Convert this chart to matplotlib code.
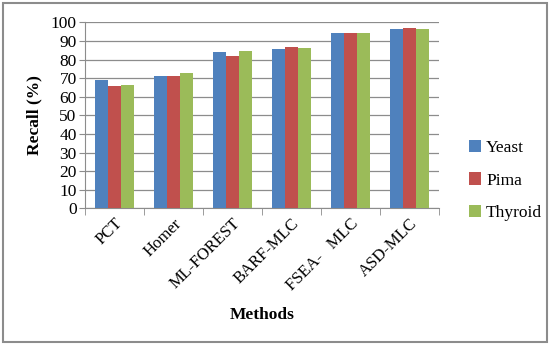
import numpy as np
import matplotlib
matplotlib.use("Agg")
import matplotlib.pyplot as plt
from matplotlib.patches import Rectangle
from matplotlib.font_manager import FontProperties

methods = ["PCT", "Homer", "ML-FOREST", "BARF-MLC", "FSEA-   MLC", "ASD-MLC"]
yeast = [69.0, 71.1, 83.9, 85.6, 94.2, 96.6]
pima = [65.6, 71.3, 81.9, 86.7, 94.2, 96.9]
thyroid = [66.5, 72.6, 84.4, 86.0, 94.1, 96.6]

series = [("Yeast", yeast, "#4F81BD"),
          ("Pima", pima, "#C0504D"),
          ("Thyroid", thyroid, "#9BBB59")]

plt.rcParams['font.family'] = ['Liberation Serif', 'DejaVu Serif']
fs = 12.5

fig = plt.figure(figsize=(5.5, 3.45), dpi=100)
ax = fig.add_axes([0.1545, 0.396, 0.6435, 0.539])

x = np.arange(len(methods))
w = 0.22
for i, (name, vals, col) in enumerate(series):
    ax.bar(x + (i - 1) * w, vals, w, color=col, label=name, zorder=3)

ax.set_xlim(-0.5, len(methods) - 0.5)
ax.set_ylim(0, 100)
ax.set_yticks(range(0, 101, 10))
ax.yaxis.grid(True, color="#8c8c8c", linewidth=0.9, zorder=0)
ax.set_axisbelow(True)

ax.set_xticks(x)
ax.set_xticklabels(methods, rotation=45, ha="right", rotation_mode="anchor", fontsize=12)
ax.tick_params(axis="x", length=0, pad=5)
ax.set_xticks(np.arange(-0.5, len(methods)), minor=True)
ax.tick_params(axis="x", which="minor", length=5, color="#8c8c8c", direction="out")
ax.tick_params(axis="y", length=4, color="#8c8c8c", labelsize=fs, pad=2)

for s in ["top", "right"]:
    ax.spines[s].set_visible(False)
for s in ["left", "bottom"]:
    ax.spines[s].set_color("#8c8c8c")

ax.set_ylabel("Recall (%)", fontsize=fs, fontweight="bold", labelpad=6)
ax.set_xlabel("Methods", fontsize=fs, fontweight="bold")
ax.xaxis.label.set_va("center")
ax.xaxis.set_label_coords(0.5, -0.575)

ax.legend(loc="center left", bbox_to_anchor=(1.04, 0.15), frameon=False,
          prop=FontProperties(family=['Liberation Serif', 'DejaVu Serif'], size=fs),
          handlelength=0.7, handleheight=0.7, handletextpad=0.3,
          labelspacing=0.95)

fig.patches.append(Rectangle((0.006, 0.009), 0.988, 0.982, transform=fig.transFigure,
                             fill=False, edgecolor="#8c8c8c", linewidth=1.5))

fig.savefig("out.png", dpi=100)
